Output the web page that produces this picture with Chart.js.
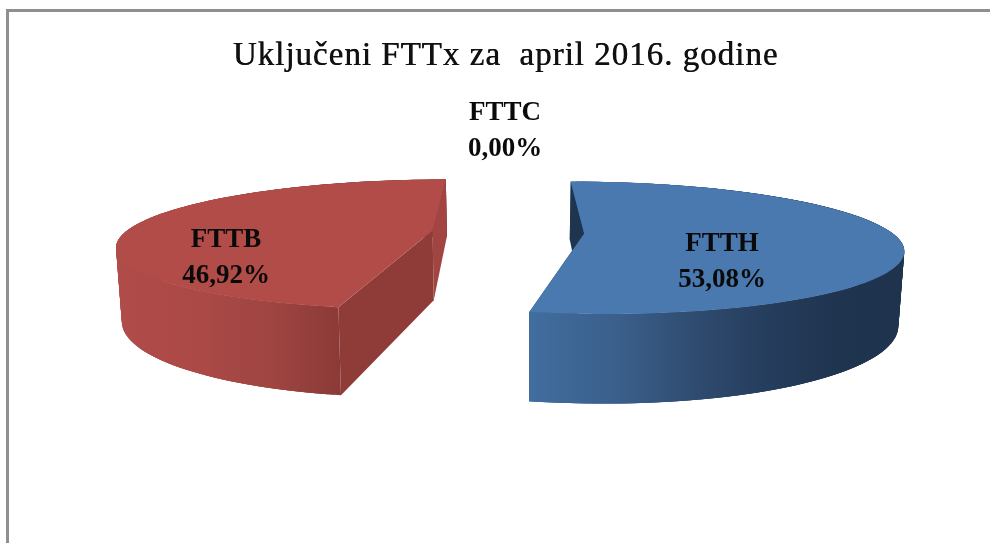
<!DOCTYPE html>
<html><head><meta charset="utf-8">
<style>html,body{margin:0;padding:0;background:#fff}canvas{display:block}</style>
<script src="https://cdn.jsdelivr.net/npm/chart.js@4"></script>
</head><body><canvas id="c" width="990" height="543"></canvas>
<script>
const categories = ['FTTH', 'FTTC', 'FTTB'];
const shares = [53.08, 0.00, 46.92];
const chartTitle = 'Uključeni FTTx za  april 2016. godine';

const topColors = ['#4a79af', '#9bbb59', '#b14c49'];
const labelSpots = [[722, 244], [505, 113], [226, 240]];
const cam = {vx: 508, vy: -60, cy: 232, rx: 307, tilt: 0.214, explode: 0.248, depth: 70, shrink: 0.985, lineGap: 36};

function project(x, y, low) {
  const w = 1 + cam.tilt * y;
  const k = low ? cam.shrink : 1;
  return [cam.vx + cam.rx * x * k / w, cam.vy + (cam.cy - cam.vy + (low ? cam.depth : 0)) / w];
}

const pie3d = {
  id: 'pie3d',
  beforeDraw(chart) {
    const c = chart.ctx;
    c.fillStyle = '#fff'; c.fillRect(0, 0, 990, 543);
    c.fillStyle = '#8f8f8f';
    c.fillRect(6, 9, 984, 3);
    c.fillRect(6, 9, 3, 534);
    c.letterSpacing = '1px';
    c.shadowColor = '#111'; c.shadowOffsetX = 0.5; c.shadowBlur = 0;
  },
  beforeDatasetsDraw(chart) {
    const c = chart.ctx, meta = chart.getDatasetMeta(0);
    c.letterSpacing = '0px';
    c.shadowColor = 'transparent'; c.shadowOffsetX = 0;
    const pt = (a, r, ex, ey, low) => project(ex + r * Math.cos(a), ey - r * Math.sin(a), low);
    const poly = (pts, fill) => {
      c.beginPath(); pts.forEach((p, i) => i ? c.lineTo(p[0], p[1]) : c.moveTo(p[0], p[1]));
      c.closePath(); c.fillStyle = fill; c.fill();
    };
    const wallStops = [
      [[530, '#416d9f'], [620, '#3a5f8a'], [700, '#2e4a6e'], [780, '#243b5a'], [840, '#1f344f'], [905, '#1f334e']],
      null,
      [[115, '#b04c49'], [200, '#ab4946'], [270, '#9f4542'], [340, '#8b3a37']]
    ];
    const cutColors = [['#1f344f', '#1f344f'], null, ['#8f3b38', '#a24441']];
    meta.data.forEach((arc, i) => {
      const {startAngle: s, endAngle: e} = arc.getProps(['startAngle', 'endAngle'], true);
      if (e - s <= 0) return;
      const mid = (s + e) / 2;
      const ex = cam.explode * Math.cos(mid), ey = -cam.explode * Math.sin(mid);
      const rim = [], n = 160;
      for (let k = 0; k <= n; k++) rim.push(s + (e - s) * k / n);
      const top = rim.map(a => pt(a, 1, ex, ey, false));
      const low = rim.map(a => pt(a, 1, ex, ey, true));
      const A = project(ex, ey, false), B = project(ex, ey, true);
      const P = pt(mid, 1, ex, ey, false);
      const faces = [[top[0], low[0], cutColors[i][0]], [top[n], low[n], cutColors[i][1]]];
      const visible = f => {
        const lineY = A[1] + (P[0] - A[0]) * (f[0][1] - A[1]) / (f[0][0] - A[0]);
        return P[1] < lineY;
      };
      faces.filter(f => !visible(f)).forEach(f => poly([A, f[0], f[1], B], f[2]));
      const st = wallStops[i], x0 = st[0][0], x1 = st[st.length - 1][0];
      const g = c.createLinearGradient(x0, 0, x1, 0);
      st.forEach(p => g.addColorStop((p[0] - x0) / (x1 - x0), p[1]));
      for (let k = 0; k < n; k++) {
        const m = Math.min(k + 3, n);
        poly([top[k], top[m], low[m], low[k]], g);
      }
      faces.filter(visible).forEach(f => poly([A, f[0], f[1], B], f[2]));
      poly([A].concat(top), topColors[i]);
    });
    c.save();
    c.fillStyle = '#0a0a0a'; c.textAlign = 'center'; c.textBaseline = 'middle';
    c.font = 'bold 27px "Liberation Serif"';
    categories.forEach((name, i) => {
      const [x, y] = labelSpots[i];
      c.fillText(name, x, y);
      c.fillText(shares[i].toFixed(2).replace('.', ',') + '%', x, y + cam.lineGap);
    });
    c.restore();
    return false;
  }
};

new Chart(document.getElementById('c'), {
  type: 'pie',
  data: {labels: categories, datasets: [{data: shares, backgroundColor: topColors}]},
  options: {
    responsive: false, animation: false,
    layout: {padding: {left: 21}},
    plugins: {
      legend: {display: false}, tooltip: {enabled: false},
      title: {display: true, text: chartTitle, color: '#111', align: 'center',
        padding: {top: 37, bottom: 10}, font: {family: '"Liberation Serif"', size: 33, weight: 'normal'}}
    }
  },
  plugins: [pie3d]
});
</script></body></html>
